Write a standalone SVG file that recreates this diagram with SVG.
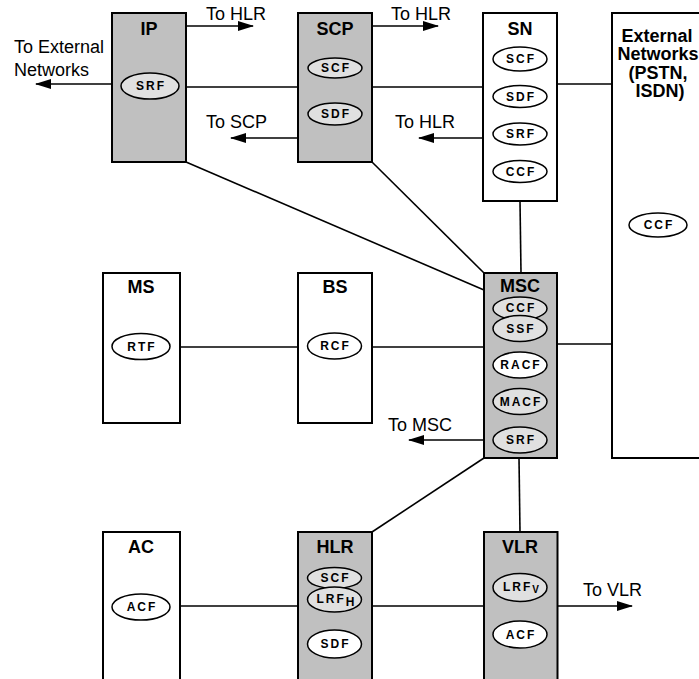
<svg xmlns="http://www.w3.org/2000/svg" width="699" height="679" viewBox="0 0 699 679">
<defs>
<marker id="arr" viewBox="0 0 16 10" refX="15" refY="5" markerWidth="16" markerHeight="10" markerUnits="userSpaceOnUse" orient="auto">
<path d="M0,0 L16,5 L0,10 z" fill="#000"/>
</marker>
<style>
.box{stroke:#000;stroke-width:2;fill:#fff}
.gbox{stroke:#000;stroke-width:2;fill:#c0c0c0}
.el{stroke:#000;stroke-width:1.5;fill:#fff}
.gel{stroke:#000;stroke-width:1.5;fill:#e0e0e0}
.ln{stroke:#000;stroke-width:1.6;fill:none}
.ar{stroke:#000;stroke-width:1.6;fill:none;marker-end:url(#arr)}
.t{font-family:"Liberation Sans",Arial,sans-serif;font-size:18px;fill:#000}
.b{font-family:"Liberation Sans",Arial,sans-serif;font-size:18px;font-weight:bold;fill:#000;text-anchor:middle}
.f{font-family:"Liberation Sans",Arial,sans-serif;font-size:12px;font-weight:bold;fill:#000;text-anchor:middle;letter-spacing:2px}
</style>
</defs>
<rect width="699" height="679" fill="#fff"/>
<g id="connectors">
<line class="ln" x1="186" y1="87" x2="298" y2="87"/>
<line class="ln" x1="372" y1="87" x2="483" y2="87"/>
<line class="ln" x1="557" y1="84" x2="612" y2="84"/>
<line class="ln" x1="186" y1="162" x2="484" y2="290"/>
<line class="ln" x1="372" y1="162" x2="484" y2="273"/>
<line class="ln" x1="520" y1="201" x2="521" y2="273"/>
<line class="ln" x1="178" y1="347" x2="298" y2="347"/>
<line class="ln" x1="372" y1="347" x2="484" y2="347"/>
<line class="ln" x1="557" y1="344" x2="612" y2="344"/>
<line class="ln" x1="484" y1="458" x2="372" y2="532"/>
<line class="ln" x1="519" y1="458" x2="520" y2="532"/>
<line class="ln" x1="180" y1="606" x2="298" y2="606"/>
<line class="ln" x1="372" y1="606" x2="484" y2="606"/>
<line class="ar" x1="186" y1="26" x2="253" y2="26"/>
<line class="ar" x1="112" y1="84" x2="36" y2="84"/>
<line class="ar" x1="298" y1="138" x2="231" y2="138"/>
<line class="ar" x1="372" y1="26" x2="438" y2="26"/>
<line class="ar" x1="483" y1="138" x2="419" y2="138"/>
<line class="ar" x1="484" y1="440" x2="409" y2="440"/>
<line class="ar" x1="558" y1="606" x2="632" y2="606"/>
<text class="t" x="206" y="20">To HLR</text>
<text class="t" x="14" y="53">To External</text>
<text class="t" x="14" y="76">Networks</text>
<text class="t" x="206" y="128">To SCP</text>
<text class="t" x="391" y="20">To HLR</text>
<text class="t" x="395" y="128">To HLR</text>
<text class="t" x="388" y="431">To MSC</text>
<text class="t" x="583" y="596">To VLR</text>
</g>
<g id="IP">
<rect class="gbox" x="112" y="13" width="74" height="149"/>
<text class="b" x="149" y="35">IP</text>
<ellipse class="gel" cx="150" cy="86" rx="29" ry="13"/>
<text class="f" x="151" y="90">SRF</text>
</g>
<g id="SCP">
<rect class="gbox" x="298" y="13" width="74" height="149"/>
<text class="b" x="335" y="35">SCP</text>
<ellipse class="gel" cx="335" cy="68" rx="27" ry="10"/>
<text class="f" x="336" y="72">SCF</text>
<ellipse class="gel" cx="335" cy="114" rx="27" ry="11"/>
<text class="f" x="336" y="118">SDF</text>
</g>
<g id="SN">
<rect class="box" x="483" y="13" width="74" height="188"/>
<text class="b" x="520" y="35">SN</text>
<ellipse class="el" cx="520" cy="59" rx="27" ry="12"/>
<text class="f" x="521" y="63">SCF</text>
<ellipse class="el" cx="520" cy="96.5" rx="27" ry="11"/>
<text class="f" x="521" y="100.5">SDF</text>
<ellipse class="el" cx="520" cy="134" rx="27" ry="11"/>
<text class="f" x="521" y="138">SRF</text>
<ellipse class="el" cx="520" cy="171.5" rx="27" ry="11"/>
<text class="f" x="521" y="175.5">CCF</text>
</g>
<g id="ExternalNetworks">
<rect class="box" x="612" y="13" width="100" height="445"/>
<text class="b" x="657" y="41.5">External</text>
<text class="b" x="658" y="60">Networks</text>
<text class="b" x="658" y="78.5">(PSTN,</text>
<text class="b" x="660" y="97">ISDN)</text>
<ellipse class="el" cx="658" cy="225" rx="29" ry="12"/>
<text class="f" x="659" y="229">CCF</text>
</g>
<g id="MS">
<rect class="box" x="103" y="273" width="77" height="150"/>
<text class="b" x="141" y="293">MS</text>
<ellipse class="el" cx="141" cy="346.5" rx="29" ry="13"/>
<text class="f" x="142" y="350.5">RTF</text>
</g>
<g id="BS">
<rect class="box" x="298" y="273" width="74" height="150"/>
<text class="b" x="335" y="293">BS</text>
<ellipse class="el" cx="334.5" cy="346" rx="27" ry="13"/>
<text class="f" x="335.5" y="350">RCF</text>
</g>
<g id="MSC">
<rect class="gbox" x="484" y="273" width="73" height="185"/>
<text class="b" x="520" y="292">MSC</text>
<ellipse class="gel" cx="520" cy="308.5" rx="27" ry="11.5"/>
<text class="f" x="521" y="312">CCF</text>
<ellipse class="gel" cx="520" cy="328.5" rx="27" ry="13"/>
<text class="f" x="521" y="332.5">SSF</text>
<ellipse class="el" cx="520" cy="365" rx="27" ry="13"/>
<text class="f" x="521" y="369">RACF</text>
<ellipse class="gel" cx="520" cy="401.5" rx="27" ry="13"/>
<text class="f" x="521" y="405.5">MACF</text>
<ellipse class="gel" cx="520" cy="440" rx="27" ry="13"/>
<text class="f" x="521" y="444">SRF</text>
</g>
<g id="AC">
<rect class="box" x="103" y="532" width="77" height="160"/>
<text class="b" x="141" y="553">AC</text>
<ellipse class="el" cx="141" cy="607" rx="29" ry="13"/>
<text class="f" x="142" y="611">ACF</text>
</g>
<g id="HLR">
<rect class="gbox" x="298" y="532" width="74" height="160"/>
<text class="b" x="335" y="553">HLR</text>
<ellipse class="gel" cx="334.5" cy="578" rx="27" ry="10.5"/>
<text class="f" x="335.5" y="582">SCF</text>
<ellipse class="gel" cx="334.5" cy="599.5" rx="27" ry="12.5"/>
<text class="f" x="335.5" y="603">LRF<tspan dy="3" letter-spacing="0">H</tspan></text>
<ellipse class="el" cx="334.5" cy="644" rx="27" ry="14"/>
<text class="f" x="335.5" y="648">SDF</text>
</g>
<g id="VLR">
<rect class="gbox" x="484" y="532" width="73.5" height="160"/>
<text class="b" x="520" y="553">VLR</text>
<ellipse class="gel" cx="520" cy="587.5" rx="27" ry="14"/>
<text class="f" x="521" y="591">LRF<tspan font-size="10" dy="2" letter-spacing="0">V</tspan></text>
<ellipse class="el" cx="520" cy="634.5" rx="27" ry="13.5"/>
<text class="f" x="521" y="638.5">ACF</text>
</g>
</svg>
